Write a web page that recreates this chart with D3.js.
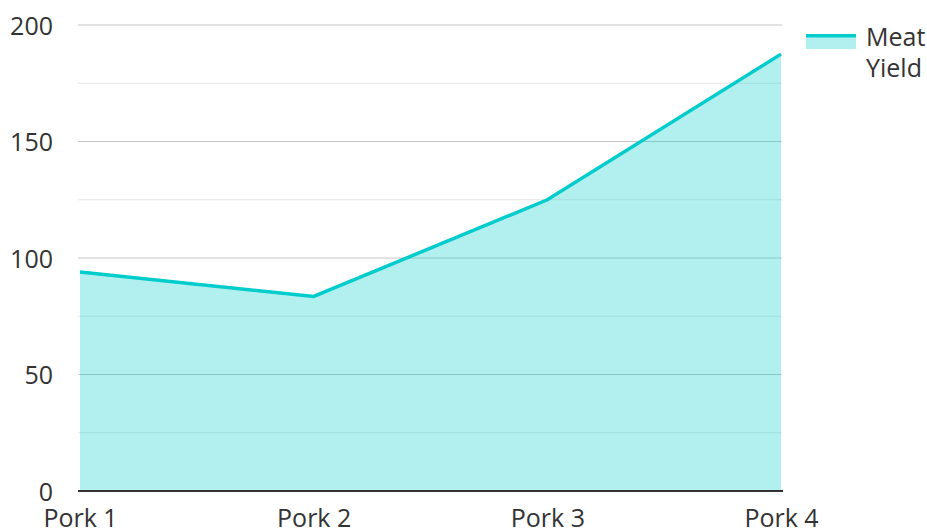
<!DOCTYPE html>
<html>
<head>
<meta charset="utf-8">
<script src="https://cdn.jsdelivr.net/npm/d3@7"></script>
<style>
  html, body { margin: 0; padding: 0; background: #fff; }
  svg { display: block; font-family: "Open Sans", "Noto Sans", sans-serif; }
</style>
</head>
<body>
<div id="chart"></div>
<script>
// ── Données ────────────────────────────────────────────────────────────────
const categories = ['Pork 1', 'Pork 2', 'Pork 3', 'Pork 4'];
const meatYield  = [94, 83.5, 125, 187.5];
const yTicks     = [0, 50, 100, 150, 200];
const yMinor     = [25, 75, 125, 175];
const seriesName = ['Meat', 'Yield'];

const W = 927, H = 531;
const margin = { top: 25, right: 146, bottom: 40, left: 80 };
const LINE = '#00cccc';
const FS = '25px';

const svg = d3.select('#chart').append('svg')
  .attr('width', W).attr('height', H)
  .attr('viewBox', `0 0 ${W} ${H}`);

const x = d3.scalePoint()
  .domain(categories)
  .range([margin.left, W - margin.right]);

const y = d3.scaleLinear()
  .domain([0, 200])
  .range([H - margin.bottom, margin.top]);

const gridX0 = margin.left - 2, gridX1 = W - margin.right + 1;

// ── Grille ─────────────────────────────────────────────────────────────────
svg.append('g').selectAll('line')
  .data(yMinor)
  .join('line')
  .attr('x1', gridX0).attr('x2', gridX1)
  .attr('y1', d => y(d)).attr('y2', d => y(d))
  .attr('stroke', '#e6e6e6').attr('stroke-width', 1);

svg.append('g').selectAll('line')
  .data(yTicks.filter(d => d > 0))
  .join('line')
  .attr('x1', gridX0).attr('x2', gridX1)
  .attr('y1', d => y(d)).attr('y2', d => y(d))
  .attr('stroke', '#c6c6c6').attr('stroke-width', 1);

// ── Aire + ligne ───────────────────────────────────────────────────────────
const pts = categories.map((c, i) => ({ c, v: meatYield[i] }));

svg.append('path')
  .datum(pts)
  .attr('fill', LINE)
  .attr('fill-opacity', 0.3)
  .attr('d', d3.area().x(d => x(d.c)).y0(y(0)).y1(d => y(d.v)));

svg.append('path')
  .datum(pts)
  .attr('fill', 'none')
  .attr('stroke', LINE)
  .attr('stroke-width', 3.5)
  .attr('stroke-linejoin', 'miter')
  .attr('d', d3.line().x(d => x(d.c)).y(d => y(d.v)));

// ── Axes ───────────────────────────────────────────────────────────────────
svg.append('line')
  .attr('x1', gridX0).attr('x2', gridX1 + 1)
  .attr('y1', y(0)).attr('y2', y(0))
  .attr('stroke', '#333').attr('stroke-width', 2);

const yAxis = svg.append('g')
  .attr('transform', `translate(${gridX0},0)`)
  .call(d3.axisLeft(y).tickValues(yTicks).tickSize(0).tickPadding(25));
yAxis.select('.domain').remove();
yAxis.selectAll('text')
  .attr('dy', '0.36em')
  .style('font-size', FS)
  .style('font-family', '"Open Sans", sans-serif')
  .attr('fill', '#333');

const xAxis = svg.append('g')
  .attr('transform', `translate(0,${y(0)})`)
  .call(d3.axisBottom(x).tickSize(0).tickPadding(18));
xAxis.select('.domain').remove();
xAxis.selectAll('text')
  .style('font-size', FS)
  .style('font-family', '"Open Sans", sans-serif')
  .attr('fill', '#333');

// ── Légende ────────────────────────────────────────────────────────────────
const leg = svg.append('g').attr('transform', 'translate(806,34)');
leg.append('rect')
  .attr('width', 50).attr('height', 15)
  .attr('fill', LINE).attr('fill-opacity', 0.3);
leg.append('line')
  .attr('x1', 0).attr('x2', 50).attr('y1', 1.75).attr('y2', 1.75)
  .attr('stroke', LINE).attr('stroke-width', 3.5);
leg.append('text')
  .attr('x', 60).attr('y', 12)
  .style('font-size', FS)
  .attr('fill', '#333')
  .selectAll('tspan')
  .data(seriesName)
  .join('tspan')
  .attr('x', 60)
  .attr('dy', (d, i) => i === 0 ? 0 : 31)
  .text(d => d);
</script>
</body>
</html>
